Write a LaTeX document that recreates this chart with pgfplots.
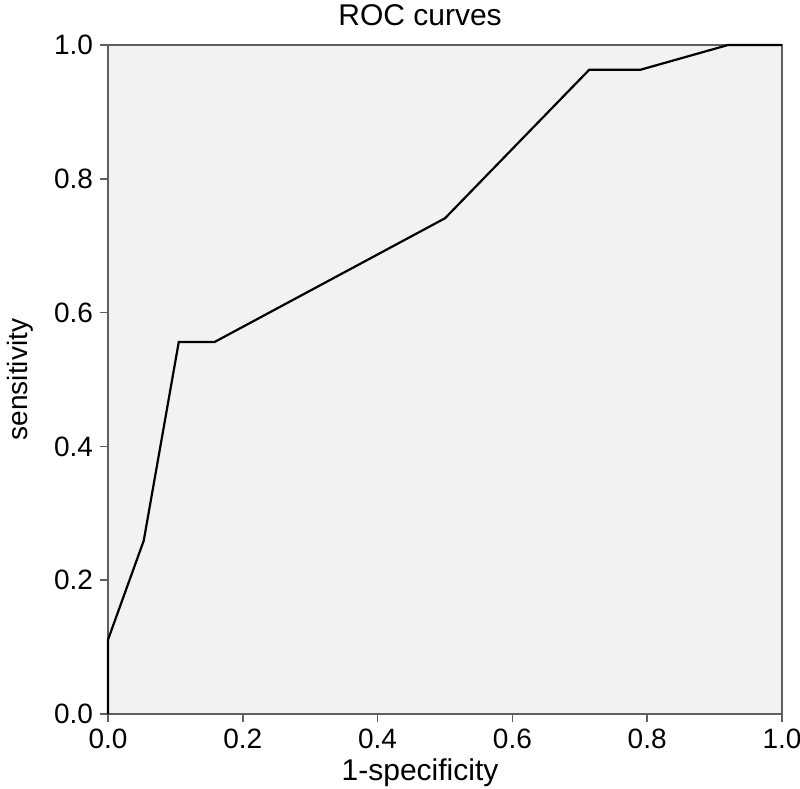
\documentclass[border=0pt]{standalone}
\usepackage{fontspec}
\setmainfont{Liberation Sans}
\usepackage{pgfplots}
\pgfplotsset{compat=1.18}

\definecolor{plotbg}{RGB}{242,242,242}
\definecolor{axgray}{RGB}{95,95,95}
\newcommand{\bigfont}{\fontsize{15}{17}\selectfont}
\newcommand{\smfont}{\fontsize{14}{16}\selectfont}

\begin{document}
\begin{tikzpicture}
\begin{axis}[
    scale only axis,
    width=337pt, height=334.5pt,
    xmin=0, xmax=1, ymin=0, ymax=1,
    xtick={0,0.2,0.4,0.6,0.8,1.0},
    ytick={0,0.2,0.4,0.6,0.8,1.0},
    tick pos=left,
    tick align=outside,
    major tick length=4pt,
    tick style={axgray, line width=0.8pt},
    axis line style={axgray, line width=1.2pt},
    axis background/.style={fill=plotbg},
    xticklabel style={font=\smfont},
    yticklabel style={font=\smfont},
    /pgf/number format/assume math mode=true,
    /pgf/number format/fixed,
    /pgf/number format/fixed zerofill,
    /pgf/number format/precision=1,
    clip=false,
]
% ROC curve
\addplot[black, line width=1.1pt] coordinates {
    (0,0) (0,0.111) (0.053,0.259) (0.105,0.556) (0.158,0.556)
    (0.500,0.741) (0.714,0.963) (0.790,0.963) (0.920,1.0) (1.0,1.0)
};
\node[font=\bigfont, anchor=base] at ([yshift=10pt]rel axis cs:0.463,1) {ROC curves};
\node[font=\bigfont, anchor=base] at ([yshift=-33pt]rel axis cs:0.463,0) {1-specificity};
\node[font=\smfont, rotate=90, anchor=base] at ([xshift=-40pt]rel axis cs:0,0.5) {sensitivity};
\end{axis}
\pgfresetboundingbox
\path (-54pt,-37.5pt) rectangle (346pt,357pt);
\end{tikzpicture}
\end{document}
